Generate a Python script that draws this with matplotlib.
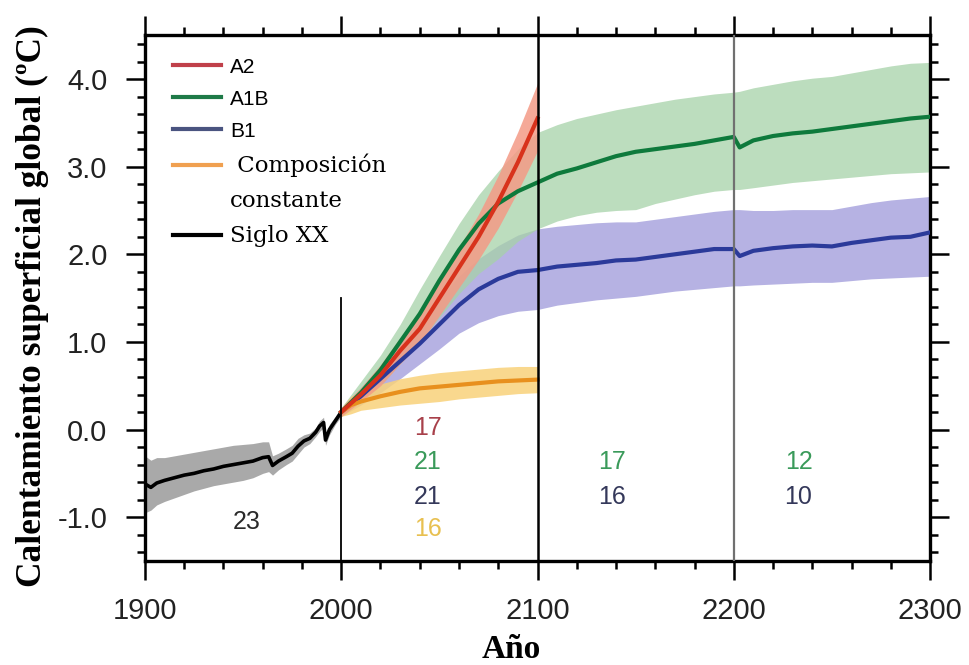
import matplotlib
matplotlib.use("Agg")
import matplotlib.pyplot as plt
from matplotlib.ticker import MultipleLocator
from matplotlib.lines import Line2D

# --- siglo XX (observed-period simulations) ---
hist_years = [1900, 1903, 1906, 1910, 1915, 1920, 1925, 1930, 1935, 1940, 1945,
              1950, 1955, 1960, 1963, 1965, 1968, 1972, 1975, 1978, 1981, 1984,
              1987, 1989, 1991, 1992, 1994, 1997, 2000]
hist_mean = [-0.62, -0.66, -0.61, -0.58, -0.55, -0.52, -0.50, -0.47, -0.45, -0.42, -0.40,
             -0.38, -0.36, -0.32, -0.31, -0.41, -0.36, -0.31, -0.27, -0.19, -0.13, -0.10,
             -0.03, 0.04, 0.08, -0.12, 0.00, 0.10, 0.20]
hist_lo = [-0.95, -0.92, -0.86, -0.82, -0.78, -0.74, -0.70, -0.67, -0.64, -0.62, -0.60,
           -0.58, -0.55, -0.50, -0.48, -0.52, -0.46, -0.40, -0.36, -0.28, -0.20, -0.16,
           -0.08, -0.02, 0.02, -0.18, -0.06, 0.06, 0.15]
hist_hi = [-0.30, -0.35, -0.32, -0.32, -0.30, -0.28, -0.26, -0.24, -0.22, -0.20, -0.18,
           -0.17, -0.16, -0.14, -0.14, -0.30, -0.27, -0.22, -0.18, -0.10, -0.06, -0.04,
           0.02, 0.10, 0.14, -0.06, 0.06, 0.15, 0.25]

# --- A2 (to 2100) ---
a2_years = [2000, 2010, 2020, 2030, 2040, 2050, 2060, 2070, 2080, 2090, 2100]
a2_mean = [0.20, 0.40, 0.62, 0.90, 1.15, 1.50, 1.85, 2.20, 2.60, 3.05, 3.55]
a2_lo = [0.15, 0.32, 0.50, 0.75, 0.98, 1.30, 1.62, 1.94, 2.30, 2.72, 3.18]
a2_hi = [0.25, 0.48, 0.74, 1.05, 1.33, 1.72, 2.08, 2.46, 2.90, 3.40, 3.95]

# --- A1B (to 2300) ---
a1b_years = [2000, 2010, 2020, 2030, 2040, 2050, 2060, 2070, 2080, 2090, 2100,
             2110, 2120, 2130, 2140, 2150, 2160, 2170, 2180, 2190, 2200, 2203,
             2210, 2220, 2230, 2240, 2250, 2260, 2270, 2280, 2290, 2300]
a1b_mean = [0.20, 0.42, 0.68, 1.00, 1.32, 1.70, 2.05, 2.35, 2.58, 2.72, 2.82,
            2.92, 2.98, 3.05, 3.12, 3.17, 3.20, 3.23, 3.26, 3.30, 3.34, 3.22,
            3.30, 3.35, 3.38, 3.40, 3.43, 3.46, 3.49, 3.52, 3.55, 3.57]
a1b_lo = [0.15, 0.30, 0.50, 0.75, 1.00, 1.28, 1.55, 1.78, 1.95, 2.15, 2.29,
          2.38, 2.44, 2.48, 2.50, 2.51, 2.58, 2.63, 2.68, 2.72, 2.74, 2.74,
          2.76, 2.79, 2.82, 2.84, 2.86, 2.88, 2.90, 2.92, 2.93, 2.94]
a1b_hi = [0.25, 0.55, 0.85, 1.20, 1.60, 1.98, 2.35, 2.68, 2.95, 3.20, 3.39,
          3.48, 3.55, 3.60, 3.65, 3.69, 3.73, 3.77, 3.80, 3.83, 3.85, 3.86,
          3.90, 3.94, 3.98, 4.01, 4.03, 4.07, 4.11, 4.15, 4.18, 4.19]

# --- B1 (to 2300) ---
b1_years = a1b_years
b1_mean = [0.20, 0.38, 0.58, 0.78, 0.98, 1.20, 1.42, 1.60, 1.72, 1.80, 1.82,
           1.86, 1.88, 1.90, 1.93, 1.94, 1.97, 2.00, 2.03, 2.06, 2.06, 1.98,
           2.04, 2.07, 2.09, 2.10, 2.09, 2.13, 2.16, 2.19, 2.20, 2.25]
b1_lo = [0.15, 0.28, 0.42, 0.58, 0.75, 0.92, 1.10, 1.22, 1.30, 1.35, 1.37,
         1.42, 1.45, 1.48, 1.50, 1.52, 1.55, 1.58, 1.60, 1.62, 1.64, 1.64,
         1.65, 1.66, 1.67, 1.68, 1.68, 1.70, 1.72, 1.73, 1.74, 1.75]
b1_hi = [0.25, 0.48, 0.72, 0.98, 1.25, 1.50, 1.75, 1.95, 2.10, 2.22, 2.29,
         2.32, 2.34, 2.36, 2.37, 2.37, 2.40, 2.43, 2.46, 2.49, 2.51, 2.51,
         2.50, 2.50, 2.51, 2.51, 2.51, 2.55, 2.59, 2.62, 2.64, 2.66]

# --- composicion constante (to 2100) ---
cc_years = [2000, 2005, 2010, 2020, 2030, 2040, 2050, 2060, 2070, 2080, 2090, 2100]
cc_mean = [0.20, 0.28, 0.32, 0.38, 0.43, 0.47, 0.49, 0.51, 0.53, 0.55, 0.56, 0.57]
cc_lo = [0.15, 0.18, 0.22, 0.25, 0.28, 0.30, 0.32, 0.35, 0.37, 0.39, 0.41, 0.42]
cc_hi = [0.25, 0.38, 0.44, 0.52, 0.58, 0.62, 0.65, 0.67, 0.69, 0.71, 0.72, 0.72]

# model counts per period
count_labels = [("23", 1952, -1.05, "#2a2a2a"),
                ("17", 2044, 0.02, "#a8404a"),
                ("21", 2044, -0.37, "#3a9a5a"),
                ("21", 2044, -0.77, "#34385a"),
                ("16", 2044, -1.14, "#e8c050"),
                ("17", 2138, -0.37, "#3a9a5a"),
                ("16", 2138, -0.77, "#34385a"),
                ("12", 2233, -0.37, "#3a9a5a"),
                ("10", 2233, -0.77, "#34385a")]

fig = plt.figure(figsize=(9.69, 6.65), dpi=100)
ax = fig.add_axes([0.1496, 0.1564, 0.8102, 0.7906])

# shaded +/- one standard deviation ranges
ax.fill_between(hist_years, hist_lo, hist_hi, color="#9a9a9a", alpha=0.85, lw=0, zorder=1)
ax.fill_between(b1_years, b1_lo, b1_hi, color="#aeaae0", alpha=0.9, lw=0, zorder=1)
ax.fill_between(a1b_years, a1b_lo, a1b_hi, color="#a6d2a8", alpha=0.75, lw=0, zorder=1.1)
ax.fill_between(cc_years, cc_lo, cc_hi, color="#f9d27a", alpha=0.85, lw=0, zorder=1.2)
ax.fill_between(a2_years, a2_lo, a2_hi, color="#f49a86", alpha=0.85, lw=0, zorder=1.3)

ax.plot(hist_years, hist_mean, color="black", lw=2.6, zorder=3)
ax.plot(b1_years, b1_mean, color="#2b3a9a", lw=3, zorder=3)
ax.plot(a1b_years, a1b_mean, color="#0e7a3c", lw=3, zorder=3)
ax.plot(cc_years, cc_mean, color="#e8901e", lw=3, zorder=3)
ax.plot(a2_years, a2_mean, color="#d8321c", lw=3, zorder=3)

# period separators
ax.plot([2000, 2000], [-1.5, 1.5], color="black", lw=1.3, zorder=4)
ax.axvline(2100, color="black", lw=1.8, zorder=4)
ax.axvline(2200, color="#707070", lw=1.6, zorder=4)

for txt, x, y, c in count_labels:
    ax.text(x, y, txt, color=c, fontsize=18, family="Liberation Sans",
            ha="center", va="center", zorder=5)

ax.set_xlim(1900, 2300)
ax.set_ylim(-1.5, 4.5)
ax.xaxis.set_minor_locator(MultipleLocator(20))
ax.yaxis.set_minor_locator(MultipleLocator(0.2))
ax.set_yticks([-1, 0, 1, 2, 3, 4])
ax.set_yticklabels(["-1.0", "0.0", "1.0", "2.0", "3.0", "4.0"])
ax.set_xticks([1900, 2000, 2100, 2200, 2300])
ax.set_xticklabels(["1900", "2000", "2100", "2200", "2300"])

ax.tick_params(which="both", direction="out", top=True, right=True,
               labeltop=False, labelright=False, width=1.8, color="black")
ax.tick_params(which="major", length=14, labelsize=21, labelcolor="#222222")
ax.tick_params(axis="x", which="major", pad=12)
ax.tick_params(axis="y", which="major", pad=13)
ax.tick_params(which="minor", length=6)
for lab in ax.get_xticklabels() + ax.get_yticklabels():
    lab.set_family("Liberation Sans")
for sp in ax.spines.values():
    sp.set_linewidth(2.4)

ax.set_xlabel("Año", fontsize=24, family="Liberation Serif", fontweight="bold")
ax.set_ylabel("Calentamiento superficial global (ºC)", fontsize=25.5,
              family="Liberation Serif", fontweight="bold")
ax.xaxis.set_label_coords(0.466, -0.138)
ax.yaxis.set_label_coords(-0.122, 0.485)

# legend: "constante" sits on its own row under "Composición"
handles = [Line2D([], [], color="#c0404a", lw=3),
           Line2D([], [], color="#1e7a48", lw=3),
           Line2D([], [], color="#4a5480", lw=3),
           Line2D([], [], color="#f0a050", lw=3),
           Line2D([], [], color="none", lw=0),
           Line2D([], [], color="black", lw=3)]
names = ["A2", "A1B", "B1", " Composición", "constante", "Siglo XX"]
leg = ax.legend(handles, names, loc="upper left", bbox_to_anchor=(0.017, 0.985),
                frameon=False, fontsize=15, handlelength=2.3, handletextpad=0.45,
                labelspacing=0.62, borderaxespad=0.5, borderpad=0.2)
for t in leg.get_texts()[:3]:
    t.set_family("Liberation Sans")
for t in leg.get_texts()[3:]:
    t.set_family("DejaVu Serif")
    t.set_fontsize(16.5)

fig.savefig("out.png", dpi=100)
